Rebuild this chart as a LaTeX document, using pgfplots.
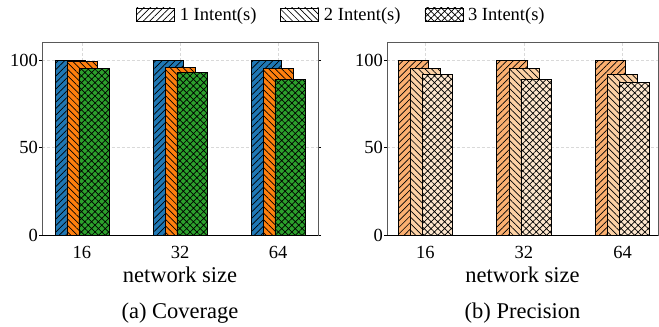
\documentclass[border=0pt]{standalone}
\usepackage{fontspec}
\setmainfont{Liberation Serif}
\usepackage{pgfplots}
\pgfplotsset{compat=1.18}
\usetikzlibrary{patterns.meta}
\definecolor{cblue}{HTML}{1F77B4}
\definecolor{corange}{HTML}{FF7F0E}
\definecolor{cgreen}{HTML}{2CA02C}
\definecolor{pA}{HTML}{FBB071}
\definecolor{pB}{HTML}{FCD1A5}
\definecolor{pC}{HTML}{FDE6CD}
\pgfplotsset{
  common/.style={
    scale only axis,
    height=193bp,
    ymin=0, ymax=110.3,
    ytick={0,50,100},
    xtick={0,1,2},
    xticklabels={16,32,64},
    /pgf/number format/assume math mode=true,
    tick label style={font=\fontsize{18.5bp}{18.5bp}\selectfont},
    xticklabel style={inner sep=0pt, yshift=-8bp},
    yticklabel style={inner sep=0pt, xshift=-1bp},
    xtick style={draw=none},
    ytick style={black, line width=0.8pt},
    major tick length=3bp,
    tick align=outside,
    axis line style={black!65, line width=0.8pt},
    grid=major,
    major grid style={densely dashed, black!15, line width=0.4pt},
    ybar, bar width=0.306,
    every axis x label/.style={at={(axis description cs:0.5,0)}, anchor=north, inner sep=0pt, yshift=-31.5bp, font=\fontsize{22.5bp}{22.5bp}\selectfont},
    xlabel={network size},
    clip=false,
    axis on top=false,
  },
  b1/.style={draw=black, line width=0.8pt, bar shift=-0.122,
     postaction={pattern={Lines[angle=45,distance=4.6bp,line width=0.7bp]}}},
  b2/.style={draw=black, line width=0.8pt, bar shift=0,
     postaction={pattern={Lines[angle=-45,distance=4.6bp,line width=0.7bp]}}},
  b3/.style={draw=black, line width=0.8pt, bar shift=0.122,
     postaction={pattern={Hatch[angle=45,distance=4.8bp,line width=0.7bp]}}},
}
\begin{document}
\begin{tikzpicture}
\useasboundingbox (0,0) rectangle (659bp,327bp);
\begin{axis}[common,
  at={(42bp,92bp)}, width=276bp,
  xmin=-0.408, xmax=2.408,
  legend columns=3,
  legend style={at={(axis description cs:1.085,1.14)}, anchor=center, draw=none, fill=none,
    font=\fontsize{18.5bp}{18.5bp}\selectfont,
    /tikz/every odd column/.append style={column sep=3bp},
    /tikz/every even column/.append style={column sep=22bp},
    legend cell align=left},
  legend image code/.code={\draw[#1] (0bp,-6.5bp) rectangle (38bp,7bp);},
]
\addlegendimage{draw=black, line width=0.6pt, fill=white, postaction={pattern={Lines[angle=45,distance=4.6bp,line width=0.7bp]}}}
\addlegendentry{1 Intent(s)}
\addlegendimage{draw=black, line width=0.6pt, fill=white, postaction={pattern={Lines[angle=-45,distance=4.6bp,line width=0.7bp]}}}
\addlegendentry{2 Intent(s)}
\addlegendimage{draw=black, line width=0.6pt, fill=white, postaction={pattern={Hatch[angle=45,distance=4.8bp,line width=0.7bp]}}}
\addlegendentry{3 Intent(s)}
\addplot[b1, fill=cblue, forget plot] coordinates {(0,100) (1,100) (2,100)};
\addplot[b2, fill=corange, forget plot] coordinates {(0,99) (1,96) (2,95)};
\addplot[b3, fill=cgreen, forget plot] coordinates {(0,95) (1,93) (2,89)};
\draw[black, line width=1pt] (rel axis cs:0,0) -- (rel axis cs:1,0);
\node[font=\fontsize{22.5bp}{22.5bp}\selectfont] at (rel axis cs:0.5,0) [yshift=-78.5bp] {(a) Coverage};
\end{axis}
\begin{axis}[common,
  at={(387bp,92bp)}, width=271bp,
  xmin=-0.39, xmax=2.36,
]
\addplot[b1, fill=pA] coordinates {(0,100) (1,100) (2,100)};
\addplot[b2, fill=pB] coordinates {(0,95) (1,95) (2,92)};
\addplot[b3, fill=pC] coordinates {(0,92) (1,89) (2,87)};
\draw[black, line width=1pt] (rel axis cs:0,0) -- (rel axis cs:1,0);
\node[font=\fontsize{22.5bp}{22.5bp}\selectfont] at (rel axis cs:0.5,0) [yshift=-78.5bp] {(b) Precision};
\end{axis}
\end{tikzpicture}
\end{document}
